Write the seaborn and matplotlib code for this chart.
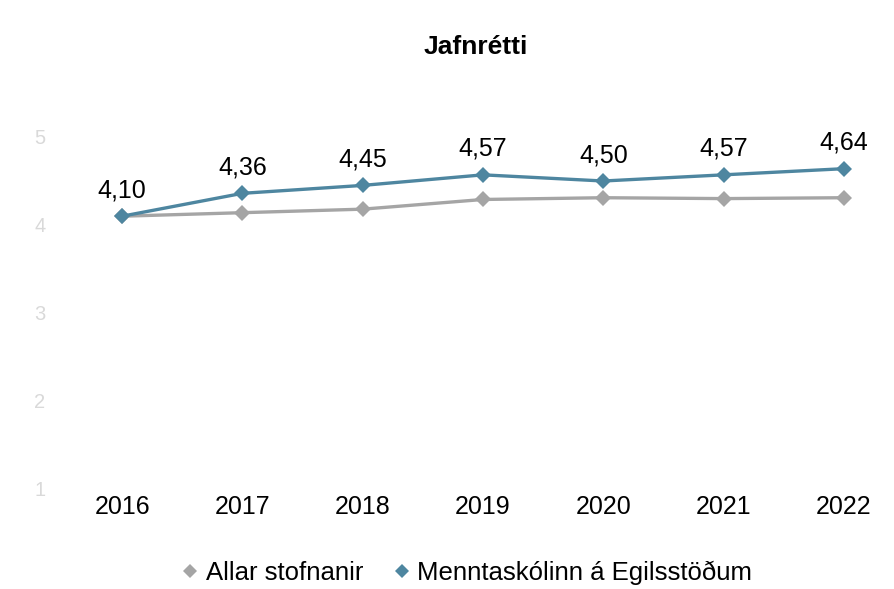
import numpy as np
import matplotlib
matplotlib.use("Agg")
import matplotlib.pyplot as plt
from matplotlib.lines import Line2D
import pandas as pd
import seaborn as sns

# Chart data
years = ["2016", "2017", "2018", "2019", "2020", "2021", "2022"]
allar_stofnanir = [4.10, 4.14, 4.18, 4.29, 4.31, 4.30, 4.31]
me = [4.10, 4.36, 4.45, 4.57, 4.50, 4.57, 4.64]
series_names = ["Allar stofnanir", "Menntaskólinn á Egilsstöðum"]
colors = ["#a5a5a5", "#4e86a0"]
y_ticks = [1, 2, 3, 4, 5]

sns.set_theme(style="white")
plt.rcParams["font.family"] = ["Liberation Sans", "DejaVu Sans"]

df = pd.DataFrame({
    "year": years * 2,
    "value": allar_stofnanir + me,
    "series": [series_names[0]] * len(years) + [series_names[1]] * len(years),
})
df["x"] = df["year"].map({y: i for i, y in enumerate(years)})

fig = plt.figure(figsize=(8.94, 5.89), dpi=100)
ax = fig.add_axes([62 / 894, 1 - 489 / 589, 830 / 894, 352 / 589])

sns.lineplot(data=df, x="x", y="value", hue="series", palette=colors,
             marker="D", markersize=8, markeredgewidth=0, linewidth=2.4,
             ax=ax, legend=False)

# data labels on the school series
for i, v in enumerate(me):
    ax.annotate(f"{v:.2f}".replace(".", ","), (i, v), xytext=(0, 10),
                textcoords="offset points", ha="center", va="bottom",
                fontsize=18, color="black")

ax.set_xlim(-0.5, 6.4)
ax.set_ylim(1, 5)
ax.set_xticks(range(len(years)))
ax.set_xticklabels(years, fontsize=18, color="black")
ax.set_yticks(y_ticks)
ax.set_yticklabels([str(t) for t in y_ticks], fontsize=14.5, color="#d9d9d9")
ax.tick_params(axis="both", length=0)
ax.tick_params(axis="x", pad=4)
ax.tick_params(axis="y", pad=12)
ax.set_xlabel("")
ax.set_ylabel("")
sns.despine(ax=ax, left=True, bottom=True)

fig.text(476 / 894, 1 - 47 / 589, "Jafnrétti", ha="center", va="center",
         fontsize=19, fontweight="bold", color="black")

handles = [Line2D([], [], linestyle="none", marker="D", markersize=7.5,
                  markeredgewidth=0, color=c) for c in colors]
leg = fig.legend(handles, series_names, loc="center", bbox_to_anchor=(0.52, 1 - 573 / 589),
                 ncol=2, frameon=False, fontsize=18.5, handletextpad=0.1,
                 columnspacing=1.0, handlelength=1.0)
for t in leg.get_texts():
    t.set_color("black")

fig.savefig("out.png", dpi=100)
